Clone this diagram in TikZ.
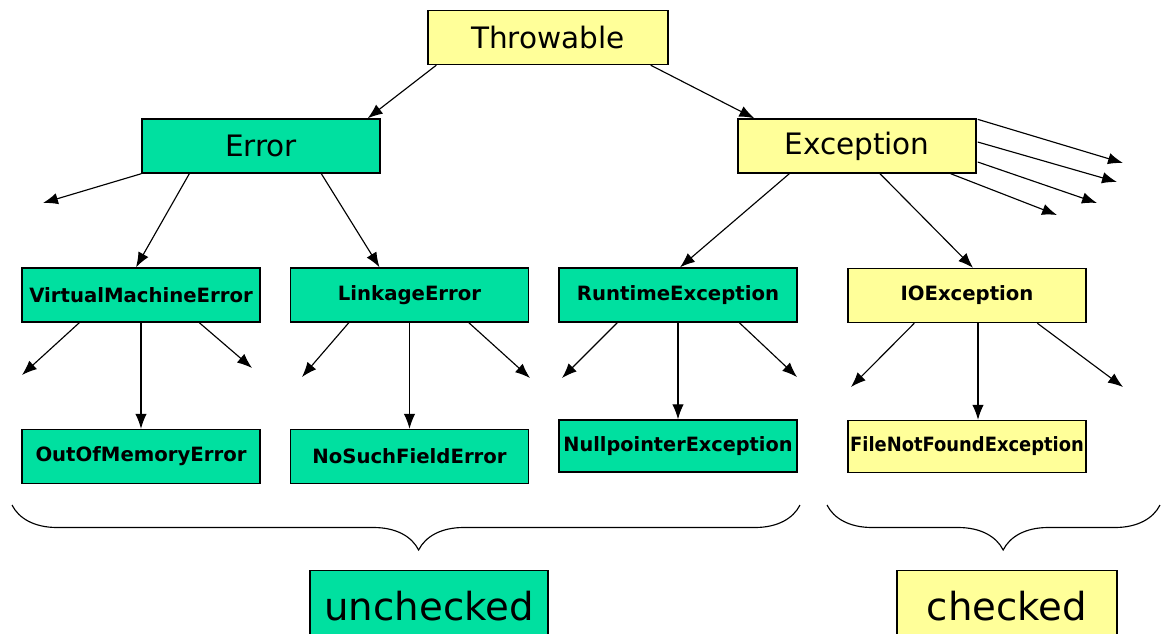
\documentclass[tikz,border=0pt]{standalone}
\usepackage{fontspec}
\setmainfont{DejaVu Sans}
\usepackage{xcolor}
\usepackage{graphicx}
\usepackage{tikz}
\usetikzlibrary{positioning,calc,arrows.meta,decorations.pathreplacing}
\definecolor{mint}{HTML}{00E0A0}
\definecolor{paleyellow}{HTML}{FFFF99}

\begin{document}
\begin{tikzpicture}[x=0.02cm, y=-0.02cm,
    box/.style={draw, line width=0.8pt, inner sep=0pt, minimum width=4.76cm, minimum height=1.08cm},
    big/.style={font=\fontsize{16.8}{20}\selectfont},
    small/.style={font=\fontsize{11.2}{13}\selectfont\bfseries},
    link/.style={-{Latex[length=8.5pt,width=6.5pt]}, line width=0.65pt},
    curly/.style={decorate, line width=0.65pt}]
    \useasboundingbox (0,0) rectangle (1163,633);
    \clip (0,0) rectangle (1163,633);

    % Top
    \node [box, fill=paleyellow, big, minimum width=4.8cm] (thr) at (548,37.5) {Throwable};
    \node [box, fill=mint, big] (err) at (261,146) {Error};
    \node [box, fill=paleyellow, big] (exc) at (857,146) {Exception};

    % Second row
    \node [box, fill=mint, small] (vme) at (141,295) {VirtualMachineError};
    \node [box, fill=mint, small] (lnk) at (409.5,295) {LinkageError};
    \node [box, fill=mint, small] (rte) at (678,295) {RuntimeException};
    \node [box, fill=paleyellow, small] (ioe) at (967,295.5) {IOException};

    % Third row
    \node [box, fill=mint, small] (oom) at (141,456.5) {OutOfMemoryError};
    \node [box, fill=mint, small] (nsf) at (409.5,456.5) {NoSuchFieldError};
    \node [box, fill=mint, small, minimum height=1.04cm] (npe) at (678,446) {\scalebox{0.98}[1]{NullpointerException}};
    \node [box, fill=paleyellow, small, minimum height=1.04cm] (fnf) at (967,446.5) {\scalebox{0.91}[1]{FileNotFoundException}};

    % Labels
    \node [box, fill=mint, font=\fontsize{22}{26}\selectfont, minimum height=1.4cm, anchor=north] (unc) at (429,570) {unchecked};
    \node [box, fill=paleyellow, font=\fontsize{22}{26}\selectfont, minimum width=4.4cm, minimum height=1.4cm, anchor=north] (chk) at (1007,570) {checked};

    % Loose ends
    \coordinate (e0) at (43,203);
    \coordinate (x1) at (1123,163); \coordinate (x2) at (1117,182);
    \coordinate (x3) at (1097,203); \coordinate (x4) at (1057,215);
    \coordinate (v1) at (22,375);   \coordinate (v2) at (252,368);
    \coordinate (l1) at (302,377);  \coordinate (l2) at (530,378);
    \coordinate (r1) at (562,378);  \coordinate (r2) at (797,377);
    \coordinate (i1) at (851,387);  \coordinate (i2) at (1123,387);

    % Throwable
    \draw [link] ($(thr.south west)+(9,0)$) -- ($(err.north east)+(-13,0)$);
    \draw [link] ($(thr.south east)+(-18,0)$) -- ($(exc.north west)+(17,0)$);

    % Error
    \draw [link] (err.south west) -- (e0);
    \draw [link] ($(err.south west)+(48,0)$) -- ($(vme.north)+(-5,0)$);
    \draw [link] ($(err.south west)+(180,0)$) -- ($(lnk.north)+(-30,0)$);

    % Exception
    \draw [link] ($(exc.north east)+(1,1)$) -- (x1);
    \draw [link] ($(exc.east)+(1,-4)$) -- (x2);
    \draw [link] ($(exc.east)+(1,16)$) -- (x3);
    \draw [link] ($(exc.south east)+(-26,0)$) -- (x4);
    \draw [link] ($(exc.south west)+(52,0)$) -- ($(rte.north)+(2,0)$);
    \draw [link] ($(exc.south)+(23,0)$) -- ($(ioe.north)+(6,0)$);

    % Second row fans
    \draw [link] ($(vme.south west)+(58,0)$) -- (v1);
    \draw [link] (vme.south) -- (oom.north);
    \draw [link] ($(vme.south west)+(178,0)$) -- (v2);
    \draw [link] ($(lnk.south west)+(59,0)$) -- (l1);
    \draw [link] (lnk.south) -- (nsf.north);
    \draw [link] ($(lnk.south west)+(179,0)$) -- (l2);
    \draw [link] ($(rte.south west)+(59,0)$) -- (r1);
    \draw [link] (rte.south) -- (npe.north);
    \draw [link] ($(rte.south west)+(181,0)$) -- (r2);
    \draw [link] ($(ioe.south west)+(67,0)$) -- (i1);
    \draw [link] ($(ioe.south)+(11,0)$) -- ($(fnf.north)+(11,0)$);
    \draw [link] ($(ioe.south west)+(190,0)$) -- (i2);

    % Braces
    \coordinate (ul) at (12,505); \coordinate (ur) at (800,505);
    \coordinate (cl) at (827,505); \coordinate (cr) at (1160,505);
    \draw [curly, decoration={brace, mirror, amplitude=0.9cm, aspect=0.516}] (ul) -- (ur);
    \draw [curly, decoration={brace, mirror, amplitude=0.9cm, aspect=0.529}] (cl) -- (cr);
\end{tikzpicture}
\end{document}
